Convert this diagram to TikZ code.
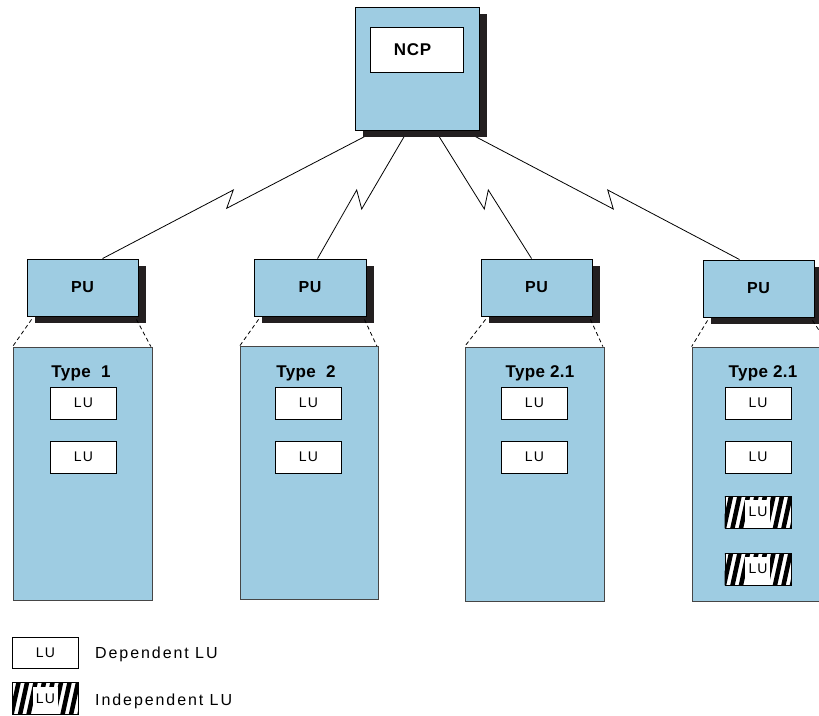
\documentclass[tikz,border=0pt]{standalone}
\usepackage{fontspec}
\setmainfont{Liberation Sans}
\usetikzlibrary{shadows,calc,backgrounds}
\definecolor{boxblue}{RGB}{158,204,226}
\definecolor{shadowc}{RGB}{35,31,32}
\definecolor{edgegray}{RGB}{70,70,70}
\newcommand{\indeplu}[3]{%
  \node[luframe] (#1) at (#2,#3) {};
  \begin{scope}
    \clip (#1.south west) rectangle (#1.north east);
    \foreach \bb in {-11.5,-3,5.5,14,22.5,31,39.5,48,56.5,65}
      \fill[black] ($(#1.south west)+(\bb pt,0pt)$) -- ++(4.6pt,0pt) -- ++(7pt,32pt) -- ++(-4.6pt,0pt) -- cycle;
    \fill[white] ($(#1.south west)+(20.5pt,0pt)$) rectangle ($(#1.south west)+(45.5pt,28.2pt)$);
  \end{scope}
  \node[luframe,fill=none] (#1-t) at (#1.center) {LU};
}
\begin{document}
\begin{tikzpicture}[x=1pt,y=-1pt,
  shadowed/.style={draw=black,line width=0.9pt,fill=boxblue,
    drop shadow={shadow xshift=7.5pt,shadow yshift=-7pt,opacity=1,fill=shadowc}},
  ncpbox/.style={shadowed,minimum width=124pt,minimum height=123pt,inner sep=0pt},
  pubox/.style={shadowed,minimum width=111pt,minimum height=57pt,inner sep=0pt,
    font=\fontsize{16}{16}\selectfont\bfseries\addfontfeatures{LetterSpace=3}},
  typebox/.style={draw=edgegray,line width=0.8pt,fill=boxblue,minimum width=139pt,
    minimum height=253pt,inner sep=0pt},
  typelabel/.style={font=\fontsize{17}{17}\selectfont\bfseries\addfontfeatures{LetterSpace=2},inner sep=0pt},
  lubox/.style={draw=black,line width=0.7pt,fill=white,minimum width=66pt,
    minimum height=32pt,inner sep=0pt,font=\fontsize{14}{14}\selectfont\addfontfeatures{LetterSpace=8}},
  luframe/.style={lubox},
  link/.style={draw=black,line width=0.8pt,line join=miter},
  dashlink/.style={draw=black,line width=0.8pt,dash pattern=on 4pt off 3pt},
  legendtext/.style={anchor=west,inner sep=0pt,font=\fontsize{16}{16}\selectfont\addfontfeatures{LetterSpace=12}}
]
\useasboundingbox (0,0) rectangle (819,715);

% zigzag coordinates
\coordinate (z1a) at (226.7,208.3); \coordinate (z1b) at (233.3,190);
\coordinate (z2a) at (361.7,209);   \coordinate (z2b) at (356.7,190);
\coordinate (z3a) at (484.3,209);   \coordinate (z3b) at (488.3,190);
\coordinate (z4a) at (613.3,209);   \coordinate (z4b) at (607.7,190);

% type boxes
\node[typebox] (t1) at (82.5,473.5) {};
\node[typebox,minimum width=138pt] (t2) at (309,473) {};
\node[typebox,minimum height=254pt] (t3) at (534.5,474) {};
\node[typebox,minimum height=254pt] (t4) at (761.5,474) {};

% PU boxes
\node[pubox] (p1) at (82.5,287.5) {PU};
\node[pubox,minimum width=112pt] (p2) at (310,287.5) {PU};
\node[pubox] (p3) at (536.5,287.5) {PU};
\node[pubox] (p4) at (758.5,288.5) {PU};

% dashed lines PU -> type box
\foreach \i in {1,2,3,4}{
  \draw[dashlink] ($(p\i.south west)+(5,3)$) -- (t\i.north west);
  \draw[dashlink] ($(p\i.south east)+(-2,3)$) -- ($(t\i.north east)+(-1.5,0)$);
}

% NCP
\node[ncpbox] (ncp) at (417,68.5) {};
\node[draw=black,line width=0.8pt,fill=white,minimum width=93pt,minimum height=45pt,
  inner sep=0pt] (ncpin) at (416.5,49.5) {};
\node[inner sep=0pt,font=\fontsize{17}{17}\selectfont\bfseries\addfontfeatures{LetterSpace=4}] (ncptext) at (412.5,49.5) {NCP};

% links (behind the boxes)
\begin{pgfonlayer}{background}
\draw[link] ($(ncp.south west)+(18,2)$) -- (z1a) -- (z1b) -- ($(p1.north west)+(76,0)$);
\draw[link] ($(ncp.south west)+(52,2)$) -- (z2a) -- (z2b) -- ($(p2.north west)+(64,0)$);
\draw[link] ($(ncp.south west)+(82,2)$) -- (z3a) -- (z3b) -- ($(p3.north west)+(51,0)$);
\draw[link] ($(ncp.south west)+(113,2)$) -- (z4a) -- (z4b) -- ($(p4.north west)+(37,0)$);
\end{pgfonlayer}

% type labels
\node[typelabel] (l1) at (81,373) {Type\ \ 1};
\node[typelabel] (l2) at (306,373) {Type\ \ 2};
\node[typelabel] (l3) at (540,373) {Type 2.1};
\node[typelabel] (l4) at (763,373) {Type 2.1};

% LUs
\node[lubox] (a1) at (83.5,403) {LU};
\node[lubox] (a2) at (83.5,457) {LU};
\node[lubox] (b1) at (308.5,403) {LU};
\node[lubox] (b2) at (308.5,457) {LU};
\node[lubox] (c1) at (534.5,403) {LU};
\node[lubox] (c2) at (534.5,457) {LU};
\node[lubox] (d1) at (758,403) {LU};
\node[lubox] (d2) at (758,457) {LU};
\indeplu{d3}{758}{512}
\indeplu{d4}{758}{569}

% legend
\node[lubox,minimum height=31pt] (k1) at (45.5,653) {LU};
\node[legendtext] (k1t) at (95,654) {Dependent LU};
\indeplu{k2}{45.5}{698.5}
\node[legendtext] (k2t) at (95,701) {Independent LU};
\end{tikzpicture}
\end{document}
